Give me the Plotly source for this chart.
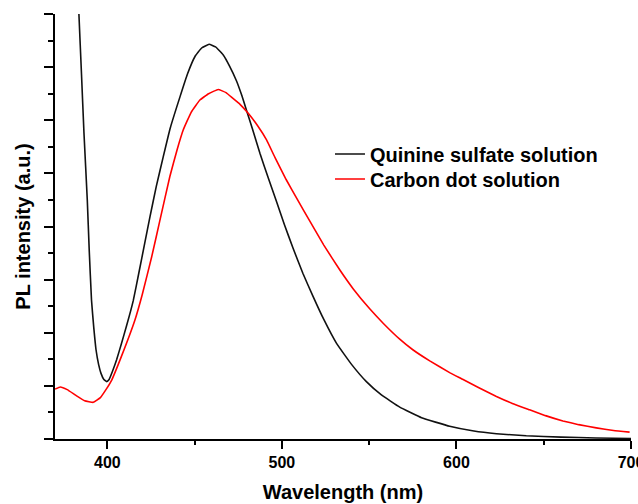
import plotly.graph_objects as go

# Quinine sulfate solution (black)
qs_x = [382.5, 383.7, 385.2, 386.6, 388.5, 389.6, 390.9, 392.2, 393.5, 395, 396.3, 398, 399.6,
        401, 403, 405.3, 408, 411, 414.8, 418, 421.5, 424.4, 428, 432, 436, 441.6, 446, 450.2,
        454, 458.3, 462, 466.4, 470, 474, 477, 479.7, 483, 487.4, 492, 496.9, 501.5, 506.4,
        512, 517.9, 524, 531.3, 540, 548.4, 557, 567.5, 580, 596.1, 610, 622.9, 640, 660, 680, 700]
qs_y = [9.0, 8.0, 6.85, 5.76, 4.5, 3.56, 2.62, 2.1, 1.68, 1.4, 1.24, 1.12, 1.08,
        1.12, 1.28, 1.49, 1.79, 2.13, 2.6, 3.12, 3.7, 4.18, 4.75, 5.31, 5.85, 6.44, 6.88, 7.2,
        7.36, 7.43, 7.38, 7.23, 7.02, 6.74, 6.47, 6.19, 5.85, 5.38, 4.93, 4.47, 4.03, 3.59,
        3.12, 2.68, 2.25, 1.8, 1.4, 1.08, 0.83, 0.6, 0.4, 0.24, 0.15, 0.1, 0.06, 0.035, 0.02, 0.01]

# Carbon dot solution (red)
cd_x = [370, 373, 377, 382, 387, 391.9, 396, 399, 402.5, 408, 415.8, 420, 425.4, 430, 435.8,
        440, 443.5, 448, 453, 458, 463.5, 468, 472, 476, 480.7, 486, 491.2, 496, 502.5, 509,
        516, 524, 533.2, 541, 550.3, 558, 567.5, 575, 584.7, 596.1, 603.8, 612, 622.9, 632,
        641.9, 651, 661, 670, 680.1, 690, 699.2]
cd_y = [0.94, 0.98, 0.93, 0.82, 0.72, 0.69, 0.78, 0.92, 1.11, 1.55, 2.24, 2.72, 3.43, 4.1, 4.94,
        5.45, 5.82, 6.15, 6.38, 6.5, 6.58, 6.52, 6.41, 6.3, 6.13, 5.9, 5.63, 5.3, 4.88, 4.5,
        4.1, 3.65, 3.18, 2.82, 2.45, 2.18, 1.88, 1.68, 1.47, 1.25, 1.12, 0.98, 0.8, 0.67,
        0.55, 0.44, 0.34, 0.27, 0.21, 0.16, 0.13]

x_ticks = [400, 500, 600, 700]
x_tick_labels = ["400", "500", "600", "700"]

FONT = "Liberation Sans, Arial, sans-serif"
legend_font = dict(family=FONT, size=20, color="black", weight="bold")

fig = go.Figure()
fig.add_trace(go.Scatter(x=qs_x, y=qs_y, mode="lines", name="Quinine sulfate solution",
                         legend="legend",
                         line=dict(color="#111111", width=1.6, shape="spline", smoothing=0.3)))
fig.add_trace(go.Scatter(x=cd_x, y=cd_y, mode="lines", name="Carbon dot solution",
                         legend="legend2",
                         line=dict(color="#ff0000", width=1.6, shape="spline", smoothing=0.3)))

fig.update_layout(
    width=638, height=504,
    margin=dict(l=55, r=7, t=14, b=65, autoexpand=False),
    paper_bgcolor="white", plot_bgcolor="white",
    font=dict(family=FONT, color="black"),
    showlegend=True,
    legend=dict(x=0.4774, y=0.7165, xanchor="left", yanchor="top",
                bgcolor="rgba(0,0,0,0)", borderwidth=0, font=legend_font),
    legend2=dict(x=0.4774, y=0.6576, xanchor="left", yanchor="top",
                 bgcolor="rgba(0,0,0,0)", borderwidth=0, font=legend_font),
    xaxis=dict(
        range=[370, 700], showgrid=False, zeroline=False,
        showline=True, linecolor="black", linewidth=1.5,
        tickmode="array", tickvals=x_ticks, ticktext=x_tick_labels,
        ticks="outside", ticklen=8, tickwidth=1.5, tickcolor="black",
        tickfont=dict(family=FONT, size=16, color="black", weight="bold"),
        ticklabeloverflow="allow",
        minor=dict(dtick=50, tick0=350, ticks="outside", ticklen=4, tickwidth=1.5, tickcolor="black"),
        automargin=False,
        title=dict(text="Wavelength (nm)", standoff=15,
                   font=dict(family=FONT, size=20, color="black", weight="bold")),
    ),
    yaxis=dict(
        range=[0, 8], showgrid=False, zeroline=False,
        showline=True, linecolor="black", linewidth=1.5,
        dtick=1, tick0=0, showticklabels=False,
        ticks="outside", ticklen=9, tickwidth=1.5, tickcolor="black",
        minor=dict(dtick=0.5, ticks="outside", ticklen=5, tickwidth=1.5, tickcolor="black"),
        automargin=False,
        title=dict(text="PL intensity (a.u.)", standoff=8,
                   font=dict(family=FONT, size=20, color="black", weight="bold")),
    ),
)

fig.write_html("out.html")
